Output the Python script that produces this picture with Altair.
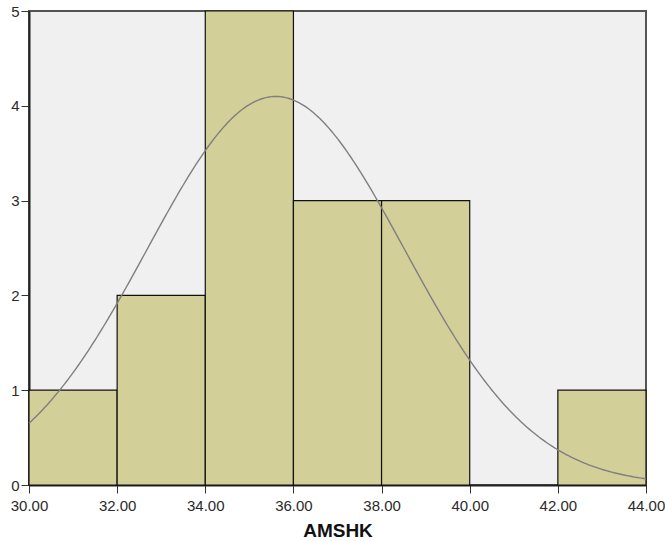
import altair as alt
import pandas as pd

bin_start = [30, 32, 34, 36, 38, 40, 42]
bin_end = [32, 34, 36, 38, 40, 42, 44]
counts = [1, 2, 5, 3, 3, 0, 1]

# fitted normal curve parameters (SPSS-style overlay)
curve_mean = 35.6
curve_sd = 2.92
n_obs = 15
bin_width = 2

x_ticks = [30, 32, 34, 36, 38, 40, 42, 44]
y_ticks = [0, 1, 2, 3, 4, 5]

bars_df = pd.DataFrame({"start": bin_start, "end": bin_end, "count": counts})
bars_df = bars_df[bars_df["count"] > 0]

xs = alt.Scale(domain=[30, 44], nice=False, zero=False)
ys = alt.Scale(domain=[0, 5], nice=False)

bars = alt.Chart(bars_df).mark_rect(
    color="#D3CF98", stroke="#111111", strokeWidth=1.2
).encode(
    x=alt.X("start:Q", scale=xs,
            axis=alt.Axis(values=x_ticks, format=".2f", title="AMSHK",
                          labelFontSize=15, labelColor="#2a2a2a", labelFont="Liberation Sans",
                          labelFlush=False, labelOverlap=False,
                          tickSize=8, tickColor="#333333", labelPadding=5,
                          domainColor="#222222", domainWidth=2, grid=False,
                          titleFont="Liberation Sans", titleFontSize=19, titleFontWeight="bold",
                          titleColor="#111111", titlePadding=8)),
    x2="end:Q",
    y=alt.Y("count:Q", scale=ys,
            axis=alt.Axis(values=y_ticks, format="d", title=None,
                          labelFontSize=15, labelColor="#2a2a2a", labelFont="Liberation Sans",
                          labelFlush=False, labelOverlap=False,
                          tickSize=8, tickColor="#333333", labelPadding=2,
                          domainColor="#222222", domainWidth=2, grid=False)),
    y2=alt.datum(0),
)

curve = alt.Chart(alt.sequence(start=30, stop=44.001, step=0.05, as_="x")).transform_calculate(
    y=f"{n_obs}*{bin_width}*exp(-0.5*pow((datum.x-{curve_mean})/{curve_sd},2))/({curve_sd}*sqrt(2*PI))"
).mark_line(color="#7f7f7f", strokeWidth=1.4).encode(
    x=alt.X("x:Q", scale=xs),
    y=alt.Y("y:Q", scale=ys),
)

chart = alt.layer(bars, curve).properties(
    width=617, height=474,
    autosize=alt.AutoSizeParams(type="none"),
    padding={"left": 29, "top": 11, "right": 19, "bottom": 56},
    background="white",
).configure_view(
    fill="#F0F0F0", stroke="#555555", strokeWidth=2
)

chart.save("out.html", embed_options={"renderer": "svg", "actions": False})
